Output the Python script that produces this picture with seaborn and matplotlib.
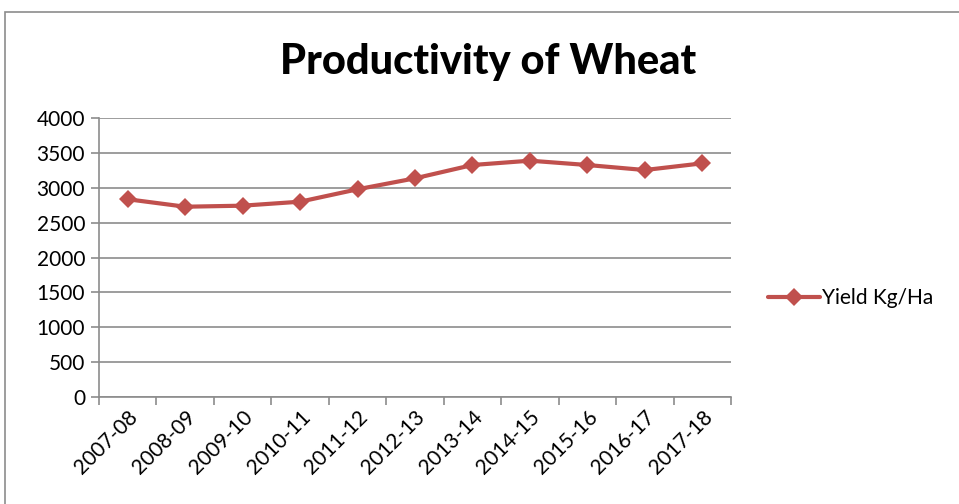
import pandas as pd
import seaborn as sns
import matplotlib.pyplot as plt
from matplotlib.patches import Rectangle

years = ["2007-08", "2008-09", "2009-10", "2010-11", "2011-12", "2012-13",
         "2013-14", "2014-15", "2015-16", "2016-17", "2017-18"]
yield_kg_ha = [2835, 2728, 2743, 2800, 2978, 3135, 3326, 3388, 3326, 3254, 3350]
series_name = "Yield Kg/Ha"

df = pd.DataFrame({"year": years, "value": yield_kg_ha, "series": series_name})
df["pos"] = range(len(years))

sns.set_style("white")
plt.rcParams["font.family"] = ["Lato", "DejaVu Sans"]
plt.rcParams["text.color"] = "black"
plt.rcParams["xtick.labelcolor"] = "black"
plt.rcParams["ytick.labelcolor"] = "black"

fig = plt.figure(figsize=(9.59, 5.04), dpi=100)
ax = fig.add_axes([99 / 959, 1 - 397 / 504, (731 - 99) / 959, (397 - 118) / 504])

# outer chart border
fig.patches.append(Rectangle((5 / 959, -0.01), 1.0, 1 - 12 / 504 + 0.01,
                             transform=fig.transFigure, fill=False,
                             edgecolor="#8c8c8c", linewidth=1.2))

sns.lineplot(data=df, x="pos", y="value", hue="series", palette=["#C0504D"],
             marker="D", markersize=9, linewidth=3, markeredgewidth=0, ax=ax)

ax.set_xlim(-0.5, len(years) - 0.5)
ax.set_ylim(0, 4000)
ax.set_yticks(range(0, 4001, 500))
ax.yaxis.grid(True, color="#8c8c8c", linewidth=1.2)
ax.set_axisbelow(True)

ax.set_xticks(range(len(years)))
ax.set_xticklabels(years, rotation=45, ha="right", rotation_mode="anchor", fontsize=15)
ax.set_xticks([i - 0.5 for i in range(len(years) + 1)], minor=True)
ax.tick_params(axis="x", which="major", length=0, pad=7)
ax.tick_params(axis="x", which="minor", length=6, width=1.2, color="#8c8c8c", direction="out")
ax.tick_params(axis="y", length=6, width=1.2, color="#8c8c8c", direction="out", labelsize=15, pad=4)
ax.xaxis.set_tick_params(bottom=True, which="minor")
ax.yaxis.set_tick_params(left=True)

for side in ["top", "right"]:
    ax.spines[side].set_visible(False)
for side in ["left", "bottom"]:
    ax.spines[side].set_color("#8c8c8c")
    ax.spines[side].set_linewidth(1.2)

ax.set_xlabel("")
ax.set_ylabel("")

handles, labels = ax.get_legend_handles_labels()
ax.legend(handles, labels, loc="center left", bbox_to_anchor=(760 / 959, 1 - 298 / 504),
          bbox_transform=fig.transFigure, frameon=False, fontsize=15,
          handlelength=2.5, handletextpad=0.1, borderaxespad=0)

fig.text(488 / 959, 1 - 62 / 504, "Productivity of Wheat", ha="center", va="center",
         fontsize=30, fontweight="black", color="black")

fig.savefig("out.png", dpi=100)
